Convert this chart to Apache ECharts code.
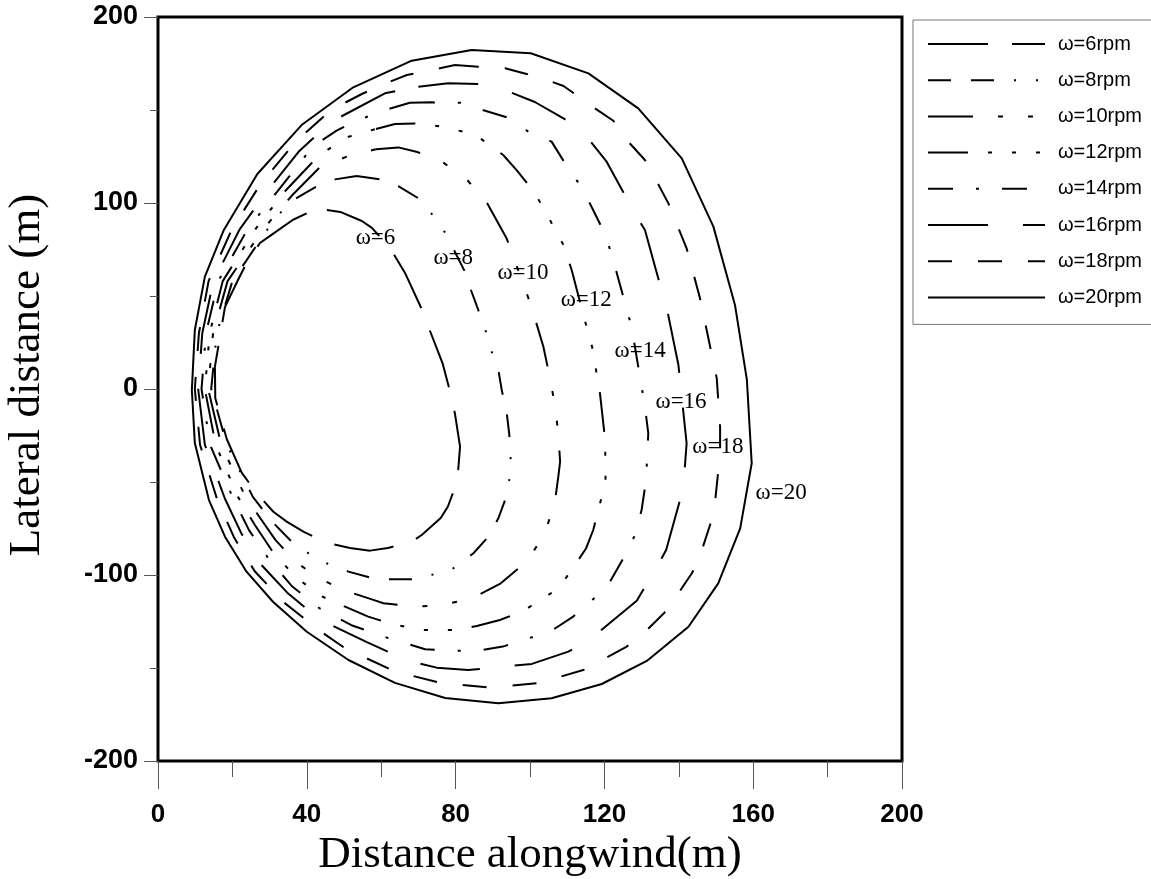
<!DOCTYPE html>
<html>
<head>
<meta charset="utf-8">
<script src="https://cdn.jsdelivr.net/npm/echarts@6/dist/echarts.min.js"></script>
<style>
html,body{margin:0;padding:0;background:#fff;}
#chart{width:1151px;height:879px;}
</style>
</head>
<body>
<div id="chart"></div>
<script>
// ---- data (distance alongwind x, lateral distance y), in metres ----
const w6 = [[45.4,96.2],[49,95.2],[54.8,90.3],[57.5,86.6],[62.4,75.8],[66.4,62.4],[70.6,44.2],[76.5,13.8],[78.2,1],[79.8,-13],[81.2,-31],[80.6,-46],[80.1,-51.6],[77.9,-63.3],[76,-69.4],[70.9,-78.5],[68.2,-82.1],[61.8,-85.5],[57,-86.9],[51.6,-85.5],[45.3,-82.6],[39.2,-76.8],[34.6,-71.3],[31,-66],[26.5,-56],[22.5,-45],[18.5,-27],[15.4,-5],[15.3,12],[18,44],[21.5,58.6],[23.8,67.7],[27.4,78.5],[30.6,83],[36.3,91],[40,94.5],[45.4,96.2]];
const w8 = [[53.4,114.5],[59.7,112.7],[64.6,109.1],[70,102.5],[73.6,94.1],[77.2,84],[79.8,73.8],[82.5,63.1],[84.3,52.3],[87.9,32.6],[89.2,22.7],[91.5,10.2],[92.4,-0.5],[93.7,-12.2],[94.4,-23.8],[94.8,-36.4],[94.6,-47.2],[93.3,-59.7],[91.5,-69.5],[88.4,-80.3],[84.8,-88.3],[79.4,-96.4],[74.5,-99.5],[68.2,-102.3],[62.4,-102.3],[56.8,-101.2],[51.2,-98.2],[45.3,-93.7],[40.4,-88.3],[35.5,-81.2],[30.5,-71],[25.5,-58],[18.5,-30],[14.3,0],[15.8,30],[20,58],[29.5,86],[35,100],[42.2,108.4],[47.6,112.7],[53.4,114.5]];
const w10 = [[58.6,128.9],[64.6,129.9],[69.7,127.4],[76.7,121.7],[83,112.7],[88.4,100.2],[93.7,81],[99.1,51.5],[100.4,44.2],[103.6,22.7],[105.2,7.5],[106.7,-8.6],[107.6,-23.8],[108.1,-39.1],[107.6,-47.2],[106.7,-60.6],[104,-77.6],[100,-90.2],[99.1,-92.8],[91.9,-104.8],[84.8,-112.2],[76.7,-116.1],[69.5,-117],[60.6,-115.2],[57.9,-113.4],[50.3,-108.4],[43.5,-102],[37,-93],[31.5,-81],[27,-68],[23.5,-58],[17,-30],[13.5,0],[14.8,30],[18.7,58],[28.3,86],[36,104],[43.5,119.2],[51.2,125.3],[58.6,128.9]];
const w12 = [[58.6,139.8],[63.7,142.5],[70.4,142.8],[77.2,140.7],[83.7,137.5],[86.6,134.8],[92.8,125.8],[96.4,117.7],[100.7,107],[104,96.2],[107,84.6],[109,77.4],[111.2,64],[114.2,40.9],[116.7,22.6],[118.8,-2.2],[120.2,-27.4],[120.3,-48.9],[118.8,-61.8],[117,-75.8],[115.1,-85.6],[111.2,-97.3],[107.6,-107.2],[103.6,-112.5],[98.1,-119.4],[91.9,-124.2],[85.7,-127.4],[80.1,-129.6],[70.9,-129.6],[68.6,-128.7],[62.8,-126.3],[56.5,-122.4],[50.3,-117],[43.5,-111],[37,-101],[31,-88],[26,-73],[21.5,-58],[15.5,-30],[12.6,0],[13.9,30],[17.4,58],[26.2,86],[34,106],[43.1,125.3],[48.2,132.1],[51.2,135.6],[58.6,139.8]];
const w14 = [[67.7,153.9],[73.6,154.1],[81.2,153.9],[86.6,150.4],[93.7,146.1],[100,137.8],[105.8,133],[110,119.5],[114.2,107.4],[117.5,94.1],[120.4,82.3],[122.4,69],[127.3,33.5],[130.9,-9.5],[131.8,-23.8],[131.2,-48.9],[130,-65.1],[128,-79.4],[125.1,-91],[121.5,-103.6],[116.6,-113.8],[111.6,-122.4],[105.4,-130.5],[98.2,-134.9],[92.7,-138.5],[85.5,-140.9],[78.3,-140.7],[71.8,-139.9],[62,-134],[52,-127],[43.5,-118],[36,-106],[30,-92],[24.5,-76],[20,-58],[14,-30],[11.7,0],[12.9,30],[16.2,58],[24.1,86],[32,106],[41.7,130.6],[48,138.9],[53.4,144.2],[60.4,149.6],[67.7,153.9]];
const w16 = [[70,162.5],[78,164.4],[86.6,164],[93.7,160.4],[101.3,154.3],[109,145.5],[113.4,140.2],[120.6,122.2],[128.7,92.6],[130.9,85.5],[134.1,62.2],[136.7,44.2],[139.9,12.9],[142.1,-29.2],[141.2,-53.4],[136.6,-86.6],[134.9,-92.8],[128.7,-113.8],[115.7,-135.3],[110.3,-141.2],[100.5,-147.8],[83.4,-151.1],[74.9,-149.8],[67.3,-146.1],[56,-136],[43.5,-124],[35,-110],[28,-95],[22.5,-78],[18,-59],[12.6,-30],[10.8,0],[11.9,30],[14.9,58],[22,86],[30,108],[38,128],[46.7,143.8],[61,159],[70,162.5]];
const w18 = [[79.8,174.2],[86.1,173.3],[93.3,172.4],[99.1,169.4],[105.8,165.2],[109,162.9],[111.6,159.3],[117,151.5],[122.4,144.2],[126.4,133],[130.9,123.1],[134.1,111.5],[137.2,99.8],[142.1,75.6],[145.7,48.8],[150.2,5.8],[151.1,-20.3],[151.1,-34.6],[149.7,-61.5],[148.4,-73.1],[146.2,-86.6],[143.6,-98.8],[139.9,-109.8],[136,-120.6],[131.4,-129.6],[126,-138.5],[120.2,-144.8],[114.3,-151.1],[108.1,-154.7],[101.8,-158.2],[95.1,-159.5],[88.4,-160.4],[81.6,-159.1],[75.4,-157.7],[68.6,-154.3],[62.4,-150.7],[56.1,-144.8],[50.3,-139.4],[43.5,-130],[34,-115],[26,-98],[20.5,-80],[16,-60],[11.3,-30],[9.9,0],[11,30],[13.6,58],[19.9,86],[27.5,110],[37,133],[46.5,150],[54.8,158.6],[60.1,163.4],[66.9,168.8],[72.7,171.1],[79.8,174.2]];
const w20 = [[84.3,182.3],[100.2,180.5],[115.7,169.7],[129.1,150.9],[140.8,124],[149.3,87.3],[155.1,45.2],[158.3,5],[159.6,-39.9],[156.5,-74.9],[150.6,-104.5],[142.6,-127.8],[131.4,-146.2],[119.3,-158.6],[105.8,-166.3],[91.5,-169],[77.2,-166.1],[63.7,-158],[51.2,-145.7],[40,-130.5],[30.9,-114.4],[23.8,-98.2],[18,-79.4],[13.7,-59.7],[9.9,-29],[9.1,-0.5],[9.9,31.7],[12.6,60.4],[17.7,85.5],[26.7,115.6],[38.6,141.9],[52.5,162.2],[68.2,176.5],[84.3,182.3]];

const curves = [w6, w8, w10, w12, w14, w16, w18, w20];
const seriesNames = ['ω=6rpm','ω=8rpm','ω=10rpm','ω=12rpm','ω=14rpm','ω=16rpm','ω=18rpm','ω=20rpm'];
const curveLabels = ['ω=6','ω=8','ω=10','ω=12','ω=14','ω=16','ω=18','ω=20'];
const curveLabelPos = [[53,81.2],[73.9,70.4],[91.1,62.4],[108.1,47.8],[122.6,20.4],[133.6,-7],[143.5,-31.2],[160.5,-55.9]];

// ---- styles ----
const dashes = [
  [60,24],
  [23,20,23,20,2,20,2,20],
  [45,25,5,25,5,25],
  [40,20,4,20,4,20,4,20],
  [25,23,3,23],
  [60,35],
  [24,26],
  'solid'
];

const chart = echarts.init(document.getElementById('chart'), null, {renderer:'canvas'});

const series = curves.map((c, i) => ({
  name: seriesNames[i],
  type: 'line',
  data: c,
  symbol: 'circle',
  showSymbol: false,
  symbolSize: 0,
  smooth: false,
  clip: false,
  lineStyle: {color:'#000', width:2, type: dashes[i], cap:'butt'},
  itemStyle: {color:'rgba(0,0,0,0)', borderWidth:0},
  emphasis: {disabled:true},
  z: 3
}));

series.push({
  name: 'labels',
  type: 'scatter',
  symbolSize: 1,
  itemStyle: {color:'rgba(0,0,0,0)', opacity:1},
  data: curveLabelPos.map((p, i) => ({value: p, name: curveLabels[i]})),
  label: {
    show: true,
    position: 'right',
    distance: 0,
    formatter: (p) => p.name,
    fontFamily: 'Liberation Serif',
    fontSize: 23,
    color: '#000',
    opacity: 1
  },
  emphasis: {disabled:true},
  z: 4
});

const xLabelStyle = {fontFamily:'Liberation Sans', fontWeight:'bold', fontSize:26, color:'#000'};
const yLabelStyle = {fontFamily:'Liberation Sans', fontWeight:'bold', fontSize:27, color:'#000'};

chart.setOption({
  animation: false,
  backgroundColor: '#fff',
  grid: {left:158, top:17, right:249, bottom:118, show:true, borderColor:'#000', borderWidth:3,
         backgroundColor:'transparent', containLabel:false, outerBoundsMode:'none'},
  legend: {
    data: seriesNames,
    orient: 'vertical',
    left: 913,
    top: 20,
    itemWidth: 117,
    itemHeight: 18,
    itemGap: 16.2,
    padding: [14, 60, 17, 14],
    borderColor: '#777',
    borderWidth: 1,
    selectedMode: false,
    lineStyle: {width: 2},
    itemStyle: {color:'rgba(0,0,0,0)', borderWidth:0},
    textStyle: {fontFamily:'Liberation Sans', fontSize:20, color:'#000', padding:[0,0,0,8]}
  },
  xAxis: {
    type: 'value', min: 0, max: 200, interval: 40,
    axisLine: {show:false, onZero:false},
    axisTick: {show:true, inside:false, length:28, lineStyle:{color:'#555', width:1}},
    minorTick: {show:true, splitNumber:2, length:16, lineStyle:{color:'#555', width:1}},
    splitLine: {show:false},
    axisLabel: Object.assign({margin:41}, xLabelStyle),
    name: 'Distance alongwind(m)',
    nameLocation: 'middle',
    nameGap: 72,
    nameTextStyle: {fontFamily:'Liberation Serif', fontSize:45, color:'#000'}
  },
  yAxis: {
    type: 'value', min: -200, max: 200, interval: 100,
    axisLine: {show:false, onZero:false},
    axisTick: {show:true, inside:false, length:14, lineStyle:{color:'#555', width:1}},
    minorTick: {show:true, splitNumber:2, length:8, lineStyle:{color:'#555', width:1}},
    splitLine: {show:false},
    axisLabel: Object.assign({margin:20}, yLabelStyle),
    name: 'Lateral distance (m)',
    nameLocation: 'middle',
    nameGap: 108,
    nameTextStyle: {fontFamily:'Liberation Serif', fontSize:45, color:'#000', padding:[0,0,0,28]}
  },
  series: series
});
</script>
</body>
</html>
